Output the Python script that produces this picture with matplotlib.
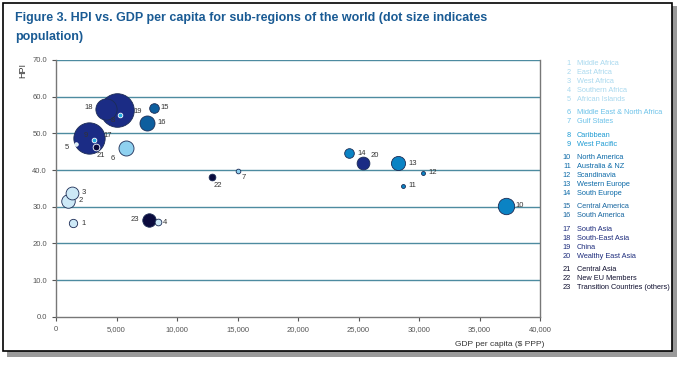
import matplotlib
matplotlib.use("Agg")
import matplotlib.pyplot as plt
from matplotlib.patches import Rectangle
import numpy as np

# sub-region data
ids = list(range(1, 24))
names = ["Middle Africa", "East Africa", "West Africa", "Southern Africa", "African Islands",
         "Middle East & North Africa", "Gulf States",
         "Caribbean", "West Pacific",
         "North America", "Australia & NZ", "Scandinavia", "Western Europe", "South Europe",
         "Central America", "South America",
         "South Asia", "South-East Asia", "China", "Wealthy East Asia",
         "Central Asia", "New EU Members", "Transition Countries (others)"]
gdp = [1440, 1030, 1310, 8390, 1640,
       5750, 15000,
       5250, 3110,
       37200, 28700, 30300, 28300, 24200,
       8060, 7560,
       2690, 4100, 5060, 25400,
       3330, 12900, 7690]
hpi = [25.5, 31.6, 33.6, 25.8, 47.0,
       45.9, 39.8,
       54.9, 48.2,
       30.2, 35.7, 39.3, 41.8, 44.6,
       56.8, 52.9,
       48.6, 56.6, 56.3, 42.0,
       46.2, 38.0, 26.4]
population = [80, 210, 190, 52, 14,
              260, 25,
              25, 25,
              310, 18, 18, 230, 107,
              107, 260,
              1130, 520, 1300, 188,
              52, 52, 208]
groups = [0, 0, 0, 0, 0, 1, 1, 2, 2, 3, 3, 3, 3, 3, 4, 4, 5, 5, 5, 5, 6, 6, 6]

fill_colors = ["#cde9f7", "#8fd1f0", "#22aadf", "#0b83c4", "#0d5e9e", "#1b2c85", "#0b0b3e"]
text_colors = ["#a9d9ef", "#6cc2e9", "#1e9bd3", "#0c6aa8", "#1766a0", "#1d2c7c", "#101030"]

# label offsets (points) and alignment for the numbers beside each dot
lab_off = {1: (6, 0, "left"), 2: (7, 0, "left"), 3: (7, 1, "left"), 4: (4, 0, "left"),
           5: (-5, -2, "right"), 6: (-8, -7, "right"), 7: (3, -5, "left"),
           8: (-3, -4, "right"), 9: (-4, 3, "right"), 10: (7, 0, "left"),
           11: (4, 0, "left"), 12: (4, 0, "left"), 13: (7, 0, "left"), 14: (6, 0, "left"),
           15: (5, 1, "left"), 16: (7, 0, "left"), 17: (11, 2, "left"), 18: (-9, 1, "right"),
           19: (12, -1, "left"), 20: (5, 5, "left"), 21: (0, -6, "left"),
           22: (1, -6, "left"), 23: (-7, 0, "right")}
edge_white = {5, 8, 9, 21}

plt.rcParams['font.family'] = ['Liberation Sans', 'DejaVu Sans']

fig = plt.figure(figsize=(6.8, 3.65), dpi=100)

# frame with drop shadow
fig.patches.append(Rectangle((7 / 680, 1 - 357 / 365), 670 / 680, 351 / 365,
                             transform=fig.transFigure, facecolor="#9a9a9a",
                             edgecolor="none", zorder=-2))
fig.patches.append(Rectangle((3 / 680, 1 - 351 / 365), 669 / 680, 348 / 365,
                             transform=fig.transFigure, facecolor="white",
                             edgecolor="black", linewidth=1.2, zorder=-1))

fig.text(15 / 680, 1 - 27.5 / 365,
         "Figure 3. HPI vs. GDP per capita for sub-regions of the world (dot size indicates\npopulation)",
         fontweight="bold", fontsize=9, color="#1a5b94", va="center", ha="left",
         linespacing=1.75)

ax = fig.add_axes([56 / 680, 1 - 316.7 / 365, 484 / 680, 256.7 / 365])
ax.set_xlim(0, 40000)
ax.set_ylim(0, 70)

for y in range(10, 71, 10):
    ax.axhline(y, color="#4d8ba0", linewidth=1.0, zorder=1)

sizes = np.array(population) * 0.45
order = np.argsort(-sizes)
for i in order:
    g = groups[i]
    ec = "white" if ids[i] in edge_white else "#1c2c55"
    ax.scatter(gdp[i], hpi[i], s=sizes[i], color=fill_colors[g], edgecolors=ec,
               linewidths=0.6, zorder=3 + (sizes.max() - sizes[i]) / 1000)

for i, n in enumerate(ids):
    dx, dy, ha = lab_off[n]
    ax.annotate(str(n), (gdp[i], hpi[i]), xytext=(dx, dy), textcoords="offset points",
                ha=ha, va="center", fontsize=5.5, color="#333333", zorder=10)

ax.set_xticks(np.arange(0, 40001, 5000))
ax.set_xticklabels([f"{v:,}" for v in range(0, 40001, 5000)])
ax.set_yticks(np.arange(0, 71, 10))
ax.set_yticklabels([f"{v:.1f}" for v in range(0, 71, 10)])
ax.tick_params(axis="both", labelsize=5.5, colors="#555555", length=3, width=0.8,
               direction="out")
for s in ["left", "bottom", "right"]:
    ax.spines[s].set_color("#777777")
    ax.spines[s].set_linewidth(1.0)
ax.spines["top"].set_visible(False)

fig.text(23 / 680, 1 - 70 / 365, "HPI", rotation=90, fontsize=6.5, color="#333333",
         ha="center", va="center")
fig.text(500 / 680, 1 - 344 / 365, "GDP per capita ($ PPP)", fontsize=6,
         color="#333333", ha="center", va="center")

# legend listing the sub-regions
y = 63.5
prev = groups[0]
for i, n in enumerate(ids):
    g = groups[i]
    if g != prev:
        y += 4.3
        prev = g
    fig.text(571 / 680, 1 - y / 365, str(n), fontsize=5.3, color=text_colors[g],
             ha="right", va="center")
    fig.text(577 / 680, 1 - y / 365, names[i], fontsize=5.3, color=text_colors[g],
             ha="left", va="center")
    y += 9

fig.savefig("out.png", dpi=100)
